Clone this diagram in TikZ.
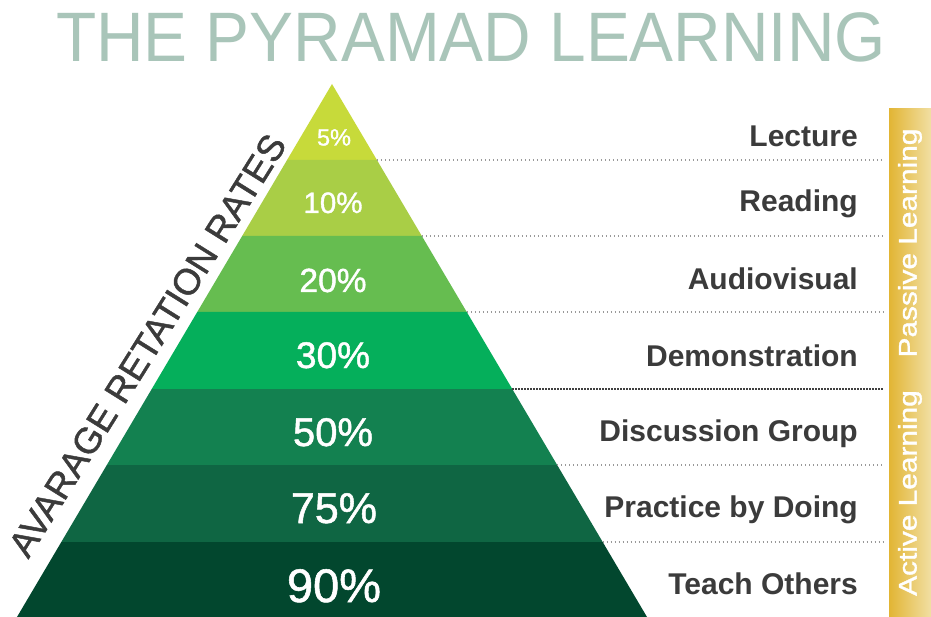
\documentclass[tikz,border=0pt]{standalone}
\usepackage{fontspec}
\setmainfont{Liberation Sans}
\newfontfamily\medsans[FakeBold=1.2]{Liberation Sans}
\usetikzlibrary{calc}

\definecolor{bandA}{HTML}{C7DA3A}
\definecolor{bandB}{HTML}{A9CE46}
\definecolor{bandC}{HTML}{66BD50}
\definecolor{bandD}{HTML}{05AF5B}
\definecolor{bandE}{HTML}{138150}
\definecolor{bandF}{HTML}{0F6643}
\definecolor{bandG}{HTML}{02472E}
\definecolor{titlegray}{HTML}{A9C5B9}
\definecolor{labelgray}{HTML}{3B3B3B}
\definecolor{goldL}{HTML}{E2B534}
\definecolor{goldR}{HTML}{F1DFA3}

\tikzset{
  pct/.style={anchor=base, text=white, inner sep=0pt},
  lbl/.style={anchor=base east, text=labelgray, inner sep=0pt,
              font=\fontsize{30pt}{30pt}\selectfont\bfseries},
  lightdots/.style={draw=black!40, line width=1.2pt, dash pattern=on 1.2pt off 2.8pt},
  darkdots/.style={draw=black!75, line width=1.5pt, dash pattern=on 1.5pt off 1.5pt},
  bartext/.style={rotate=90, text=white, inner sep=0pt,
                  font=\medsans\fontsize{25.5pt}{25.5pt}\selectfont},
}

\begin{document}
\begin{tikzpicture}[x=1pt, y=-1pt]
\useasboundingbox (0,0) rectangle (931,617);
\fill[white] (0,0) rectangle (931,617);

% title
\node[anchor=base, text=titlegray, inner sep=0pt,
      font=\fontsize{70pt}{70pt}\selectfont] (title) at (471,62)
  {\scalebox{0.94}[1]{THE PYRAMAD LEARNING}};

% pyramid bands, apex at (332,84), half-width grows 0.591 per unit of height
\foreach \t/\b/\c/\n in {84/160/bandA/1, 160/236/bandB/2, 236/312/bandC/3,
                         312/389/bandD/4, 389/465/bandE/5, 465/542/bandF/6,
                         542/617/bandG/7} {
  \pgfmathsetmacro\tl{332-0.591*(\t-84)}
  \pgfmathsetmacro\tr{332+0.591*(\t-84)}
  \pgfmathsetmacro\bl{332-0.591*(\b-84)}
  \pgfmathsetmacro\br{332+0.591*(\b-84)}
  \fill[\c] (\tl,\t) -- (\tr,\t) -- (\br,\b) -- (\bl,\b) -- cycle;
  \coordinate (edge\n) at (\br,\b);
}

% retention rates
\node[pct, font=\medsans\fontsize{23.5pt}{23.5pt}\selectfont] (p5)  at (334,145.5) {5\%};
\node[pct, font=\medsans\fontsize{29.5pt}{29.5pt}\selectfont] (p10) at (333,213) {10\%};
\node[pct, font=\medsans\fontsize{33.5pt}{33.5pt}\selectfont] (p20) at (333,292) {20\%};
\node[pct, font=\medsans\fontsize{37pt}{37pt}\selectfont]     (p30) at (333,368) {30\%};
\node[pct, font=\medsans\fontsize{40pt}{40pt}\selectfont]     (p50) at (333,446) {50\%};
\node[pct, font=\medsans\fontsize{43pt}{43pt}\selectfont]     (p75) at (334,523) {75\%};
\node[pct, font=\medsans\fontsize{47pt}{47pt}\selectfont]     (p90) at (334,602) {90\%};

% separators from the pyramid's right side
\coordinate (end1) at (883,160);
\coordinate (end2) at (883,236);
\coordinate (end3) at (883,312);
\coordinate (end4) at (883,389);
\coordinate (end5) at (883,465);
\coordinate (end6) at (883,542);
\draw[lightdots] (edge1) -- (end1);
\draw[lightdots] (edge2) -- (end2);
\draw[lightdots] (edge3) -- (end3);
\draw[darkdots]  (edge4) -- (end4);
\draw[lightdots] (edge5) -- (end5);
\draw[lightdots] (edge6) -- (end6);

% learning methods
\node[lbl] (lecture)  at (858,147) {Lecture};
\node[lbl] (reading)  at (858,212) {Reading};
\node[lbl] (audio)    at (858,290) {Audiovisual};
\node[lbl] (demo)     at (858,366) {Demonstration};
\node[lbl] (discuss)  at (858,441) {Discussion Group};
\node[lbl] (practice) at (858,517) {Practice by Doing};
\node[lbl] (teach)    at (858,594) {Teach Others};

% side axis caption along the left slope
\node[anchor=base, rotate=58, text=labelgray, inner sep=0pt,
      font=\medsans\fontsize{36.5pt}{36.5pt}\selectfont] (axis) at (158,352)
  {AVARAGE RETATION RATES};

% passive / active bar
\shade[left color=goldL, right color=goldR] (889,109) rectangle (931,617);
\node[bartext] (passive) at (910,243) {\scalebox{1.17}[1]{Passive Learning}};
\node[bartext] (active)  at (910,493) {\scalebox{1.17}[1]{Active Learning}};
\end{tikzpicture}
\end{document}
